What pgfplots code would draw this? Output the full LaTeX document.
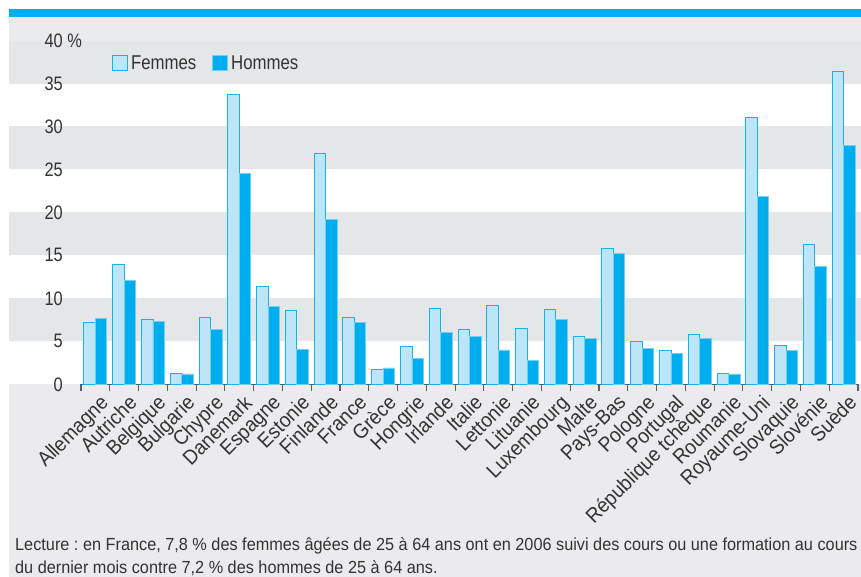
\documentclass[border=0pt]{standalone}
\usepackage{fontspec}
\setmainfont{Liberation Sans}[FakeStretch=0.84]
\newfontfamily\labelfont{Liberation Sans}[FakeStretch=0.93]
\newfontfamily\bottomfont{Liberation Sans}[FakeStretch=0.93]
\usepackage{pgfplots}
\usepackage{pgfplotstable}
\pgfplotsset{compat=1.18}
\definecolor{topblue}{HTML}{00AEEF}
\definecolor{pagebg}{HTML}{EBEBED}
\definecolor{bandgray}{HTML}{E5E6E8}
\definecolor{femfill}{HTML}{BCE5F8}
\definecolor{femdraw}{HTML}{1CB0E9}
\definecolor{homfill}{HTML}{00AEEF}
\definecolor{homdraw}{HTML}{74CFF3}
\definecolor{txt}{HTML}{333333}
\definecolor{axisc}{HTML}{55606A}

\pgfplotstableread{
idx F H
0 7.2 7.7
1 14.0 12.1
2 7.6 7.3
3 1.3 1.2
4 7.8 6.4
5 33.7 24.5
6 11.4 9.1
7 8.6 4.1
8 26.9 19.2
9 7.8 7.2
10 1.7 1.9
11 4.4 3.0
12 8.8 6.0
13 6.4 5.6
14 9.2 4.0
15 6.5 2.8
16 8.7 7.5
17 5.6 5.35
18 15.8 15.2
19 5.0 4.2
20 3.9 3.6
21 5.8 5.3
22 1.3 1.2
23 31.1 21.9
24 4.5 3.9
25 16.3 13.7
26 36.4 27.8
}\data

\begin{document}
\frenchspacing
\begin{tikzpicture}
\useasboundingbox (0bp,0bp) rectangle (861bp,-577bp);
\clip (0bp,0bp) rectangle (861bp,-577bp);
\fill[white] (0bp,0bp) rectangle (861bp,-577bp);
\fill[pagebg] (9bp,-16bp) rectangle (861bp,-577bp);
\fill[topblue] (9bp,-9bp) rectangle (861bp,-16.5bp);
% bands
\fill[white] (9bp,-384.3bp) rectangle (861bp,-40.5bp);
\fill[bandgray] (9bp,-341.3bp) rectangle (861bp,-298.35bp);
\fill[bandgray] (9bp,-255.4bp) rectangle (861bp,-212.4bp);
\fill[bandgray] (9bp,-169.4bp) rectangle (861bp,-126.45bp);
\fill[bandgray] (9bp,-83.5bp) rectangle (861bp,-40.5bp);
\begin{axis}[
  at={(81bp,-384.3bp)}, anchor=south west,
  scale only axis, width=777bp, height=343.8bp,
  xmin=-0.5, xmax=26.5, ymin=0, ymax=40,
  clip=false,
  axis x line*=bottom, axis y line*=left,
  x axis line style={-, draw=axisc, line width=1.6bp},
  y axis line style={draw=none},
  ytick={0,5,...,40},
  yticklabels={0,5,10,15,20,25,30,35,{40\rlap{ \%}}},
  ytick style={draw=none},
  xtick={0,...,26},
  xticklabels={Allemagne,Autriche,Belgique,Bulgarie,Chypre,Danemark,Espagne,Estonie,Finlande,France,Grèce,Hongrie,Irlande,Italie,Lettonie,Lituanie,Luxembourg,Malte,Pays-Bas,Pologne,Portugal,République tchèque,Roumanie,Royaume-Uni,Slovaquie,Slovénie,Suède},
  major x tick style={draw=none},
  minor xtick={-0.5,0.5,...,26.5},
  minor x tick style={draw=axisc, line width=1.1bp},
  tick align=outside,
  major tick length=0pt,
  minor tick length=7bp,
  tick label style={font=\fontsize{19.5bp}{23bp}\selectfont, text=txt},
  xticklabel style={font=\labelfont\fontsize{20.5bp}{24bp}\selectfont, rotate=45, anchor=north east, inner sep=1bp, xshift=-3bp, yshift=-8bp},
  yticklabel style={anchor=east, inner sep=0pt, xshift=-18bp},
  ybar=0pt, bar width=11.5bp,
  legend style={at={(0.0399,0.934)}, anchor=west, draw=none, fill=none,
    legend columns=2, inner sep=0pt,
    font=\fontsize{20bp}{24bp}\selectfont, text=txt,
    nodes={inner sep=3bp},
    /tikz/every even column/.append style={column sep=13bp}},
  legend image code/.code={\draw[#1] (0bp,-7.5bp) rectangle (15bp,7.5bp);},
]
\addplot[fill=femfill, draw=femdraw, line width=0.8bp] table[x=idx,y=F]{\data};
\addlegendentry{Femmes}
\addplot[fill=homfill, draw=homdraw, line width=0.8bp] table[x=idx,y=H]{\data};
\addlegendentry{Hommes}
\end{axis}
\node[anchor=base west, inner sep=0pt, text=txt, font=\bottomfont\fontsize{17.5bp}{21bp}\selectfont] at (15bp,-550bp) {Lecture : en France, 7,8 \% des femmes âgées de 25 à 64 ans ont en 2006 suivi des cours ou une formation au cours};
\node[anchor=base west, inner sep=0pt, text=txt, font=\bottomfont\fontsize{17.5bp}{21bp}\selectfont] at (15bp,-573bp) {du dernier mois contre 7,2 \% des hommes de 25 à 64 ans.};
\end{tikzpicture}
\end{document}
